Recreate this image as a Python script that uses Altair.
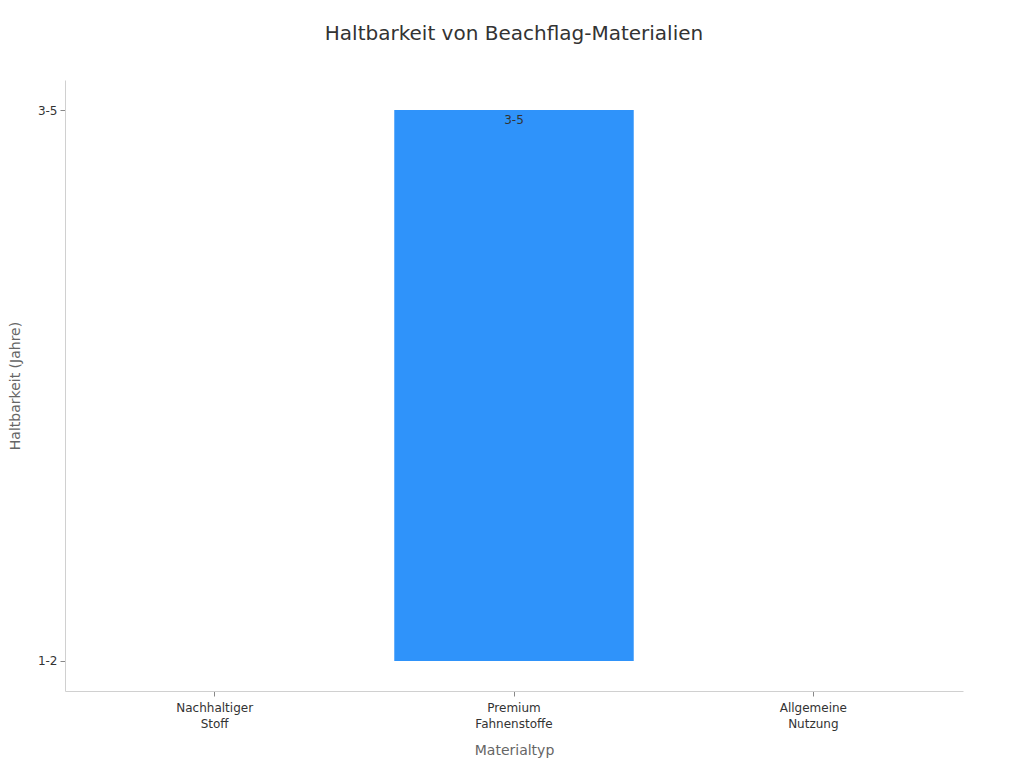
import altair as alt
import pandas as pd

materials = ["Nachhaltiger Stoff", "Premium Fahnenstoffe", "Allgemeine Nutzung"]
durability = ["1-2", "3-5", "1-2"]
levels = ["1-2", "3-5"]
shown_labels = ["", "3-5", ""]

df = pd.DataFrame({
    "Materialtyp": materials,
    "Haltbarkeit": durability,
    "rank": [levels.index(d) for d in durability],
    "label": shown_labels,
})

FONT = "DejaVu Sans"
pad = 0.0545

base = alt.Chart(df).encode(
    x=alt.X("Materialtyp:N", sort=materials,
            scale=alt.Scale(paddingInner=0.2, paddingOuter=0.1),
            axis=alt.Axis(title="Materialtyp", labelAngle=0,
                          labelExpr="split(datum.label, ' ')",
                          labelFont=FONT, labelFontSize=12, labelColor="#333",
                          labelLineHeight=16,
                          titleFont=FONT, titleFontSize=14, titleColor="#666",
                          titleFontWeight="normal", titlePadding=14,
                          domainColor="#d0d0d0", tickColor="#888", tickSize=5,
                          labelPadding=6)),
)

bars = base.mark_bar(color="#2f93fa", strokeWidth=0).encode(
    y=alt.Y("rank:Q",
            scale=alt.Scale(domain=[-pad, 1 + pad], nice=False, zero=False),
            axis=alt.Axis(title="Haltbarkeit (Jahre)", values=[0, 1],
                          labelExpr="datum.value == 0 ? '1-2' : '3-5'",
                          grid=False, labelFont=FONT, labelFontSize=12,
                          labelColor="#333", titleFont=FONT, titleFontSize=14,
                          titleColor="#666", titleFontWeight="normal",
                          titlePadding=15, domainColor="#d0d0d0",
                          tickColor="#888", tickSize=5, labelPadding=3)),
    y2=alt.datum(0),
)

text = base.mark_text(baseline="top", dy=5, fontSize=12, font=FONT,
                      color="#333").encode(
    y=alt.Y("rank:Q"),
    text="label:N",
)

chart = (bars + text).properties(
    width=898, height=611,
    title=alt.TitleParams("Haltbarkeit von Beachflag-Materialien",
                          font=FONT, fontSize=20, fontWeight="normal",
                          color="#333", anchor="middle", offset=36),
    autosize=alt.AutoSizeParams(type="none"),
    padding={"left": 57, "top": 72, "right": 53, "bottom": 69},
).configure_view(stroke=None)

chart.save("out.html", embed_options={"renderer": "svg", "actions": False})
